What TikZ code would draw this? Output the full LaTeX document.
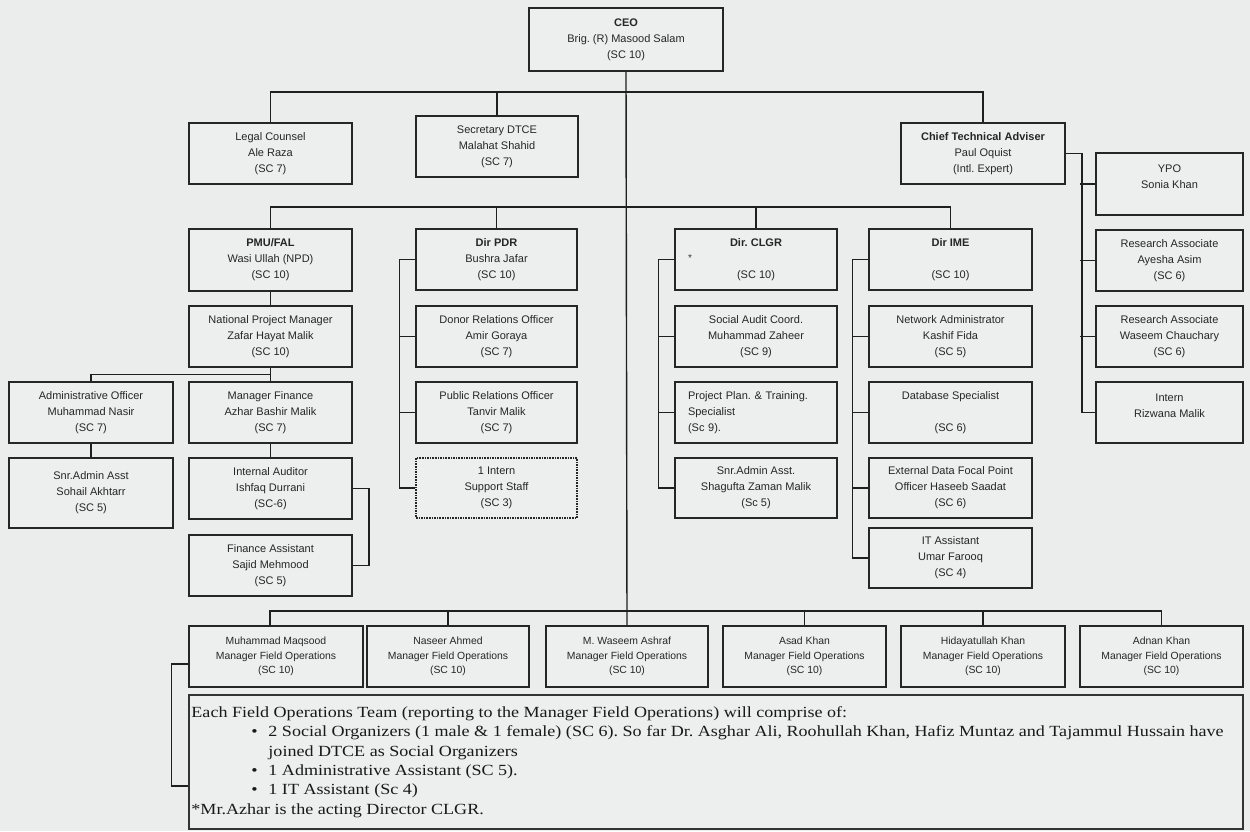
\documentclass[tikz,border=0pt]{standalone}
\usepackage{fontspec}
\usetikzlibrary{calc}
\setmainfont{Liberation Sans}
\newfontfamily\notesfont[FakeStretch=1.165]{Liberation Serif}
\frenchspacing
\definecolor{bg}{RGB}{234,237,235}
\definecolor{boxfill}{RGB}{236,239,237}
\tikzset{
  box/.style={draw=black!85, line width=1.6pt, fill=boxfill, inner sep=0pt, align=center,
    font=\fontsize{11}{16}\selectfont, text=black!85},
  mfo/.style={box, font=\fontsize{10.4}{14.5}\selectfont},
  dotbox/.style={box, densely dotted, line width=1.2pt},
  leftbox/.style={box, align=left, text width=136pt, inner xsep=13pt},
  notesbox/.style={draw=black!80, line width=1.5pt, fill=boxfill, inner sep=0pt},
  notetext/.style={align=left, inner sep=0pt, text=black!90,
    font=\notesfont\fontsize{15.5}{19.3}\selectfont},
  conn/.style={line width=1.4pt, draw=black!88},
  startext/.style={inner sep=0pt, font=\fontsize{10}{10}\selectfont, text=black!80},
}
\newcommand\orgbox[7][]{%
  \node[#1, minimum width={(#5-#3)*1pt}, minimum height={(#6-#4)*1pt}] (#2)
    at ({(#3+#5)/2},{(#4+#6)/2}) {#7};}
\begin{document}
\begin{tikzpicture}[x=1pt,y=-1pt]
\useasboundingbox (0,0) rectangle (1250,831);
\fill[bg] (0,0) rectangle (1250,831);

% top level
\orgbox[box]{ceo}{529}{8}{723}{71}{\textbf{CEO}\\Brig. (R) Masood Salam\\(SC 10)}
\orgbox[box]{legal}{189}{123}{352}{184}{Legal Counsel\\Ale Raza\\(SC 7)}
\orgbox[box]{sec}{416}{116}{578}{177}{Secretary DTCE\\Malahat Shahid\\(SC 7)}
\orgbox[box]{cta}{901}{123}{1065}{184}{\textbf{Chief Technical Adviser}\\Paul Oquist\\(Intl. Expert)}

% CTA team
\orgbox[box]{ypo}{1096}{153}{1243}{215}{YPO\\Sonia Khan\\[-2pt]\mbox{}}
\orgbox[box]{ra1}{1096}{230}{1243}{291}{Research Associate\\Ayesha Asim\\(SC 6)}
\orgbox[box]{ra2}{1096}{306}{1243}{367}{Research Associate\\Waseem Chauchary\\(SC 6)}
\orgbox[box]{intb}{1096}{382}{1243}{443}{Intern\\Rizwana Malik\\[-2pt]\mbox{}}

% PMU/FAL
\orgbox[box]{pmu}{189}{229}{352}{291}{\textbf{PMU/FAL}\\Wasi Ullah (NPD)\\(SC 10)}
\orgbox[box]{npm}{189}{306}{352}{367}{National Project Manager\\Zafar Hayat Malik\\(SC 10)}
\orgbox[box]{admin}{9}{382}{173}{443}{Administrative Officer\\Muhammad Nasir\\(SC 7)}
\orgbox[box]{mfin}{189}{382}{352}{443}{Manager Finance\\Azhar Bashir Malik\\(SC 7)}
\orgbox[box]{snradmin}{9}{458}{173}{528}{Snr.Admin Asst\\Sohail Akhtarr\\(SC 5)}
\orgbox[box]{audit}{189}{458}{352}{519}{Internal Auditor\\Ishfaq Durrani\\(SC-6)}
\orgbox[box]{finasst}{189}{535}{352}{596}{Finance Assistant\\Sajid Mehmood\\(SC 5)}

% PDR
\orgbox[box]{pdr}{416}{229}{577}{290}{\textbf{Dir PDR}\\Bushra Jafar\\(SC 10)}
\orgbox[box]{donor}{416}{306}{577}{367}{Donor Relations Officer\\Amir Goraya\\(SC 7)}
\orgbox[box]{pro}{416}{382}{577}{443}{Public Relations Officer\\Tanvir Malik\\(SC 7)}
\orgbox[dotbox]{inta}{416}{458}{577}{518}{1 Intern\\Support Staff\\(SC 3)}

% CLGR
\orgbox[box]{clgr}{675}{229}{837}{290}{\textbf{Dir. CLGR}\\ \\(SC 10)}
\node[startext] (star) at (690,258) {*};
\orgbox[box]{social}{675}{306}{837}{367}{Social Audit Coord.\\Muhammad Zaheer\\(SC 9)}
\orgbox[leftbox]{plan}{675}{382}{837}{443}{Project Plan. \& Training.\\Specialist\\(Sc 9).}
\orgbox[box]{clgrasst}{675}{458}{837}{518}{Snr.Admin Asst.\\Shagufta Zaman Malik\\(Sc 5)}

% IME
\orgbox[box]{ime}{869}{229}{1032}{290}{\textbf{Dir IME}\\ \\(SC 10)}
\orgbox[box]{net}{869}{306}{1032}{367}{Network Administrator\\Kashif Fida\\(SC 5)}
\orgbox[box]{db}{869}{382}{1032}{443}{Database Specialist\\ \\(SC 6)}
\orgbox[box]{ext}{869}{458}{1032}{518}{External Data Focal Point\\Officer Haseeb Saadat\\(SC 6)}
\orgbox[box]{itasst}{869}{528}{1032}{588}{IT Assistant\\Umar Farooq\\(SC 4)}

% field operations
\orgbox[mfo]{mfa}{189}{626}{363}{687}{Muhammad Maqsood\\Manager Field Operations\\(SC 10)}
\orgbox[mfo]{mfb}{367}{626}{529}{687}{Naseer Ahmed\\Manager Field Operations\\(SC 10)}
\orgbox[mfo]{mfc}{546}{626}{708}{687}{M. Waseem Ashraf\\Manager Field Operations\\(SC 10)}
\orgbox[mfo]{mfd}{723}{626}{886}{687}{Asad Khan\\Manager Field Operations\\(SC 10)}
\orgbox[mfo]{mfe}{901}{626}{1065}{687}{Hidayatullah Khan\\Manager Field Operations\\(SC 10)}
\orgbox[mfo]{mff}{1080}{626}{1243}{687}{Adnan Khan\\Manager Field Operations\\(SC 10)}

\orgbox[notesbox]{notes}{189}{695}{1243}{829}{}
\node[notetext, anchor=west] (notestxt) at ([xshift=3pt]notes.west) {%
Each Field Operations Team (reporting to the Manager Field Operations) will comprise of:\\
\hspace*{60pt}\makebox[17pt][l]{\textbullet}2 Social Organizers (1 male \& 1 female) (SC 6). So far Dr. Asghar Ali, Roohullah Khan, Hafiz Muntaz and Tajammul Hussain have\\
\hspace*{77pt}joined DTCE as Social Organizers\\
\hspace*{60pt}\makebox[17pt][l]{\textbullet}1 Administrative Assistant (SC 5).\\
\hspace*{60pt}\makebox[17pt][l]{\textbullet}1 IT Assistant (Sc 4)\\
*Mr.Azhar is the acting Director CLGR.};

% connectors
\coordinate (busA) at (627,92);
\coordinate (busB) at (627,207);
\coordinate (busC) at (627,611);
\draw[conn] (ceo.south) -- (mfc.north);
\draw[conn] (legal.north) |- (busA) -| (cta.north);
\draw[conn] (sec.north) -- (sec.north |- busA);
\draw[conn] (pmu.north) |- (busB) -| (ime.north);
\draw[conn] (pdr.north) -- (pdr.north |- busB);
\draw[conn] (clgr.north) -- (clgr.north |- busB);

\draw[conn] (pmu.south) -- (npm.north);
\draw[conn] (npm.south) -- (mfin.north);
\draw[conn] (admin.north) |- ($(npm.south)!0.5!(mfin.north)$);
\draw[conn] (admin.south) -- (snradmin.north);
\draw[conn] (mfin.south) -- (audit.north);
\draw[conn] (audit.east) -- ++(16,0) |- (finasst.east);

\draw[conn] (pdr.west) -- ++(-16,0) |- (inta.west);
\draw[conn] (donor.west) -- ++(-16,0);
\draw[conn] (pro.west) -- ++(-16,0);

\draw[conn] (clgr.west) -- ++(-16,0) |- (clgrasst.west);
\draw[conn] (social.west) -- ++(-16,0);
\draw[conn] (plan.west) -- ++(-16,0);

\draw[conn] (ime.west) -- ++(-16,0) |- (itasst.west);
\draw[conn] (net.west) -- ++(-16,0);
\draw[conn] (db.west) -- ++(-16,0);
\draw[conn] (ext.west) -- ++(-16,0);

\draw[conn] (cta.east) -- ++(16,0) |- (intb.west);
\draw[conn] (ypo.west) -- ++(-15,0);
\draw[conn] (ra1.west) -- ++(-15,0);
\draw[conn] (ra2.west) -- ++(-15,0);

\draw[conn] ([xshift=-6pt]mfa.north) |- (busC) -| (mff.north);
\draw[conn] (mfb.north) -- (mfb.north |- busC);
\draw[conn] (mfd.north) -- (mfd.north |- busC);
\draw[conn] (mfe.north) -- (mfe.north |- busC);
\draw[conn] ([yshift=-7.5pt]mfa.west) -- ++(-17,0) |- ([yshift=-24pt]notes.west);
\end{tikzpicture}
\end{document}
